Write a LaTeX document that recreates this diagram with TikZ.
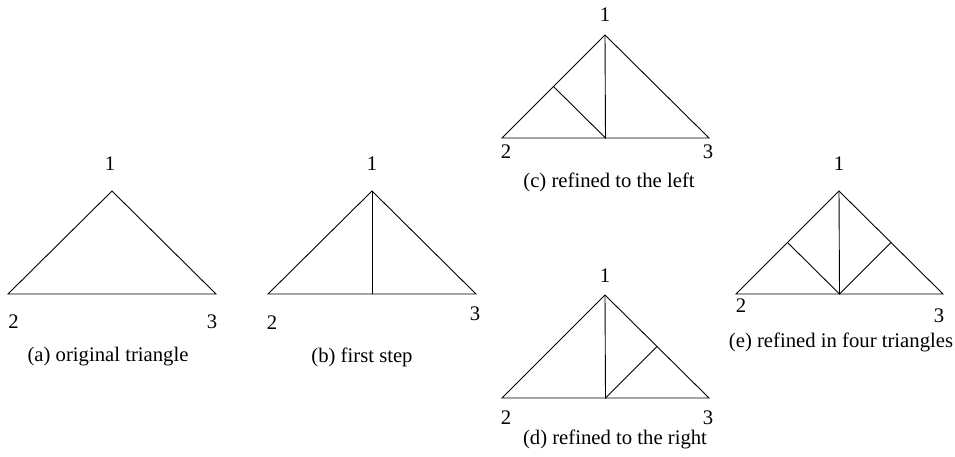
\documentclass[tikz,border=0pt]{standalone}
\usepackage{fontspec}
\setmainfont{Liberation Serif}
\usetikzlibrary{calc}
\tikzset{
  edge/.style={line width=0.9pt, line join=miter},
  lbl/.style={font=\fontsize{20.7}{24}\selectfont, inner sep=0pt, anchor=center},
}
\begin{document}
\begin{tikzpicture}[x=1pt,y=-1pt]
\useasboundingbox (0,0) rectangle (955,457);
% (a)
\coordinate (a1) at (112,191); \coordinate (a2) at (8,294); \coordinate (a3) at (216,294);
\draw[edge] (a1) -- (a2) -- (a3) -- cycle;
\node[lbl] (la1) at (110,164) {1};
\node[lbl] (la2) at (13.5,321.5) {2};
\node[lbl] (la3) at (212,321.5) {3};
\node[lbl] (ca) at (108,357) {(a) original triangle};
% (b)
\coordinate (b1) at (372,191); \coordinate (b2) at (268,294); \coordinate (b3) at (476,294);
\coordinate (bm) at ($(b2)!0.5!(b3)$);
\draw[edge] (b1) -- (b2) -- (b3) -- cycle;
\draw[edge] (b1) -- (bm);
\node[lbl] (lb1) at (372,164) {1};
\node[lbl] (lb2) at (272,322.5) {2};
\node[lbl] (lb3) at (475,313.5) {3};
\node[lbl] (cb) at (362,357) {(b) first step};
% (c)
\coordinate (c1) at (605,35); \coordinate (c2) at (502,138); \coordinate (c3) at (709,138);
\coordinate (cm) at ($(c2)!0.5!(c3)$);
\coordinate (cl) at ($(c1)!0.5!(c2)$);
\draw[edge] (c1) -- (c2) -- (c3) -- cycle;
\draw[edge] (c1) -- (cm) -- (cl);
\node[lbl] (lc1) at (605,15) {1};
\node[lbl] (lc2) at (506,152) {2};
\node[lbl] (lc3) at (708,152) {3};
\node[lbl] (cc) at (609,182) {(c) refined to the left};
% (d)
\coordinate (d1) at (605,295); \coordinate (d2) at (502,398); \coordinate (d3) at (709,398);
\coordinate (dm) at ($(d2)!0.5!(d3)$);
\coordinate (dr) at ($(d1)!0.5!(d3)$);
\draw[edge] (d1) -- (d2) -- (d3) -- cycle;
\draw[edge] (d1) -- (dm) -- (dr);
\node[lbl] (ld1) at (605,276) {1};
\node[lbl] (ld2) at (506,418) {2};
\node[lbl] (ld3) at (708,418) {3};
\node[lbl] (cd) at (615,439) {(d) refined to the right};
% (e)
\coordinate (e1) at (839,191); \coordinate (e2) at (736,294); \coordinate (e3) at (943,294);
\coordinate (em) at ($(e2)!0.5!(e3)$);
\coordinate (el) at ($(e1)!0.5!(e2)$);
\coordinate (er) at ($(e1)!0.5!(e3)$);
\draw[edge] (e1) -- (e2) -- (e3) -- cycle;
\draw[edge] (e1) -- (em);
\draw[edge] (el) -- (em) -- (er);
\node[lbl] (le1) at (839,164) {1};
\node[lbl] (le2) at (741,306) {2};
\node[lbl] (le3) at (939,316) {3};
\node[lbl] (ce) at (841,342) {(e) refined in four triangles};
\end{tikzpicture}
\end{document}
